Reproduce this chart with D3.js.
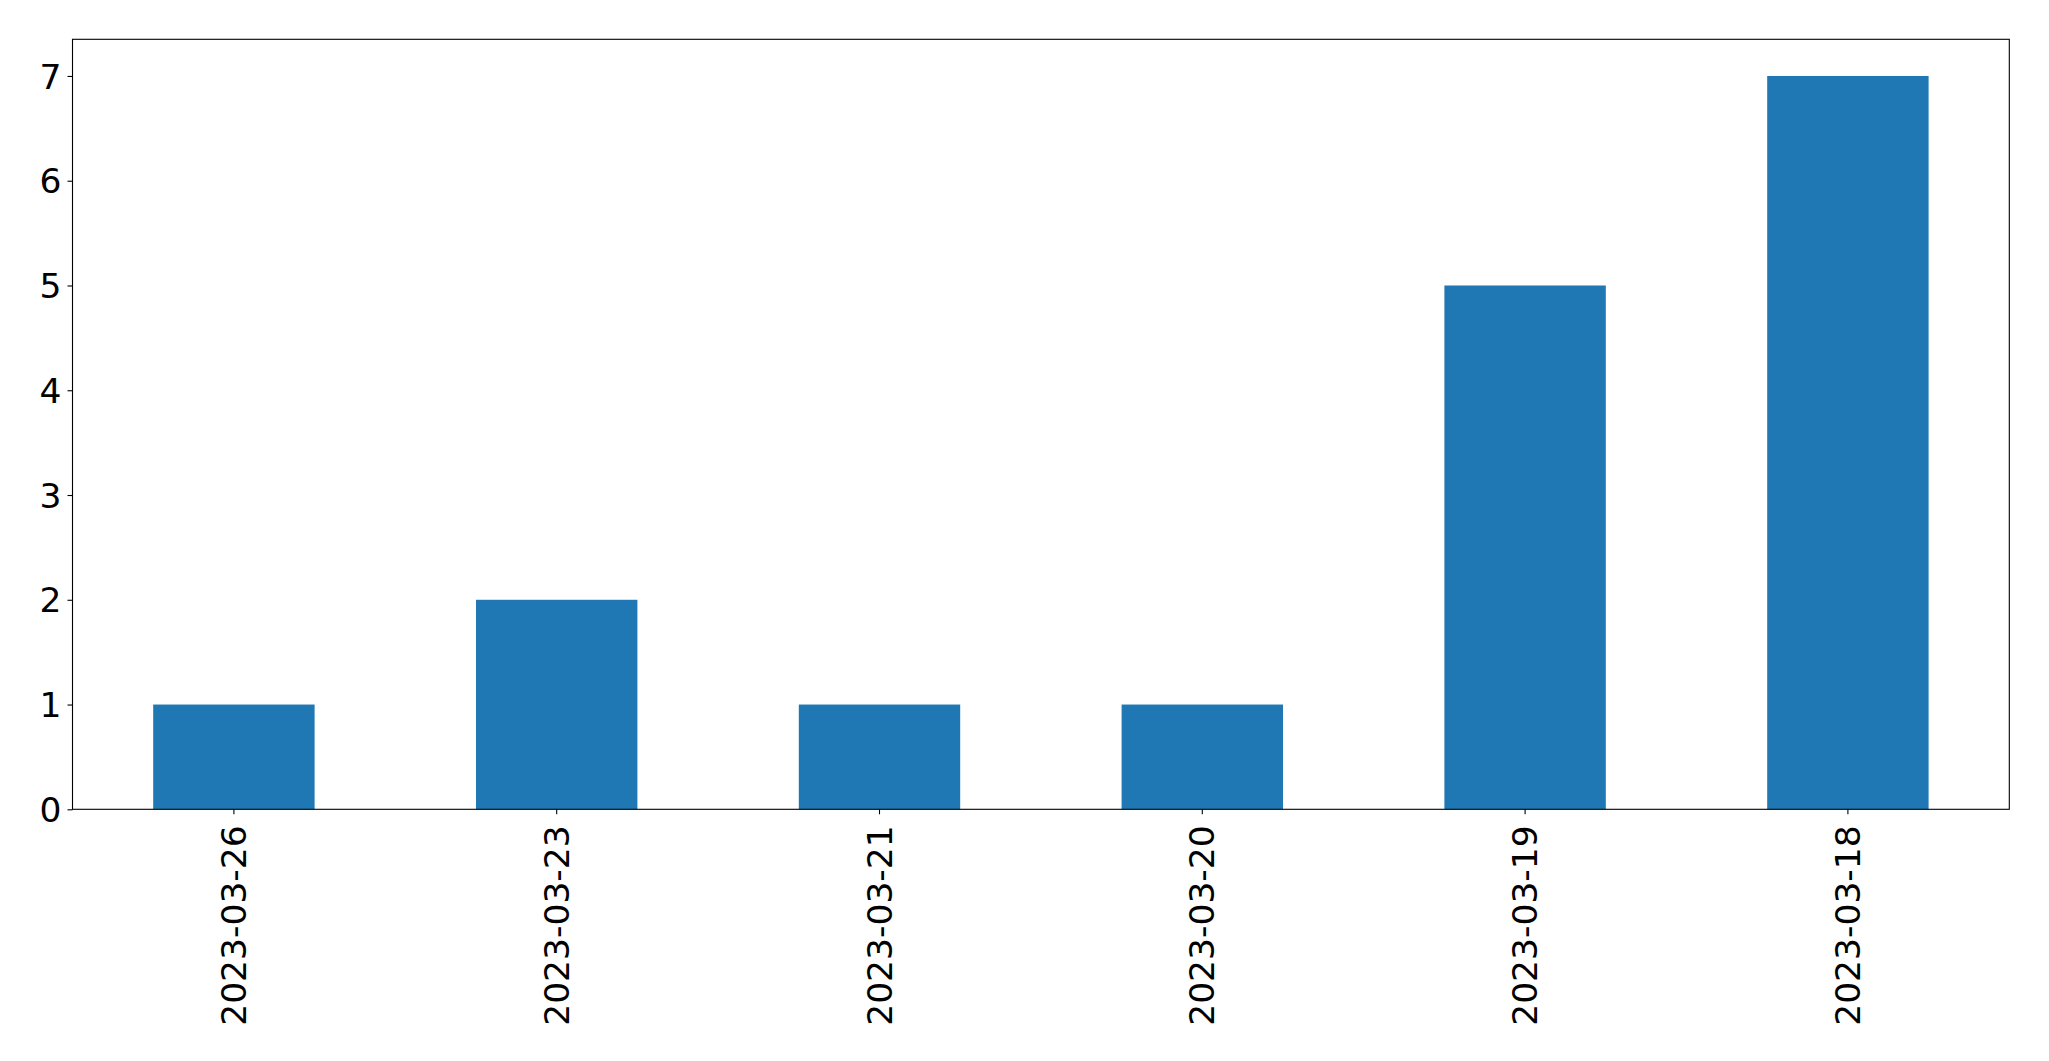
<!DOCTYPE html>
<html><head><meta charset="utf-8">
<script src="https://cdn.jsdelivr.net/npm/d3@7"></script>
<style>body{margin:0;background:#fff}svg{display:block}text{font-family:"DejaVu Sans";fill:#000}</style>
</head><body>
<script>
const categories = ["2023-03-26","2023-03-23","2023-03-21","2023-03-20","2023-03-19","2023-03-18"];
const values = [1,2,1,1,5,7];
const yTicks = [0,1,2,3,4,5,6,7];

const W = 2049, H = 1061;
const m = {left:72.5, right:2049-2009.3, top:39.3, bottom:1061-809.3};
const svg = d3.select("body").append("svg").attr("width",W).attr("height",H);
const iw = W-m.left-m.right, ih = H-m.top-m.bottom;
const g = svg.append("g").attr("transform",`translate(${m.left},${m.top})`);

const x = d3.scaleBand().domain(categories).range([0,iw]).paddingInner(0.5).paddingOuter(0.25);
const y = d3.scaleLinear().domain([0,7.35]).range([ih,0]);

g.selectAll("rect.bar").data(values).join("rect").attr("class","bar")
  .attr("x",(d,i)=>x(categories[i])).attr("width",x.bandwidth())
  .attr("y",d=>y(d)).attr("height",d=>ih-y(d)).attr("fill","#1f77b4");

const fs = 34.5;
const ya = g.append("g").call(d3.axisLeft(y).tickValues(yTicks).tickFormat(d3.format("d")).tickSize(5).tickPadding(6));
ya.select(".domain").remove();
ya.selectAll("line").attr("stroke","#000").attr("stroke-width",1.1);
ya.selectAll("text").attr("font-size",fs).attr("font-family","DejaVu Sans").attr("dy","0.35em");

const xa = g.append("g").attr("transform",`translate(0,${ih})`).call(d3.axisBottom(x).tickSize(5).tickPadding(0));
xa.select(".domain").remove();
xa.selectAll("line").attr("stroke","#000").attr("stroke-width",1.1);
xa.selectAll("text").attr("font-size",fs).attr("font-family","DejaVu Sans")
  .attr("text-anchor","end").attr("dy","0.35em")
  .attr("transform","translate(0,16) rotate(-90)").attr("x",0).attr("y",0);

g.append("rect").attr("x",0).attr("y",0).attr("width",iw).attr("height",ih)
  .attr("fill","none").attr("stroke","#000").attr("stroke-width",1.1);
</script>
</body></html>
